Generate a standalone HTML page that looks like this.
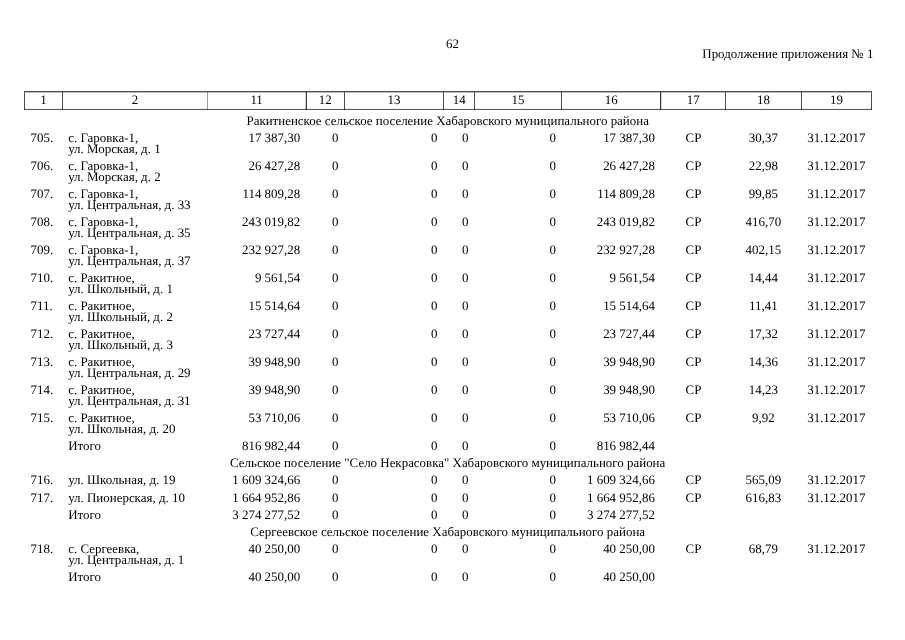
<!DOCTYPE html>
<html lang="ru"><head><meta charset="utf-8"><title>62</title>
<style>
html,body{margin:0;padding:0;background:#fff;}
body{width:905px;height:640px;position:relative;overflow:hidden;font-family:"Liberation Serif",serif;font-size:12.95px;color:#000;text-rendering:geometricPrecision;}
.t{position:absolute;white-space:pre;line-height:14px;height:14px;}
.r{text-align:right;}
.c{text-align:center;}
.lines{position:absolute;left:0;top:0;}
#wrap{position:absolute;left:0;top:0;width:905px;height:640px;will-change:transform;transform:translateZ(0);}
</style></head><body><div id="wrap">
<svg class="lines" width="905" height="640" viewBox="0 0 905 640">
<g stroke="#000" stroke-width="0.7" fill="none">
<line x1="24.15" y1="91.78" x2="871.85" y2="91.78" stroke-width="0.95"/>
<line x1="24.15" y1="109.45" x2="871.85" y2="109.45"/>
<line x1="24.5" y1="92.14999999999999" x2="24.5" y2="110.0"/>
<line x1="62.5" y1="92.14999999999999" x2="62.5" y2="110.0"/>
<line x1="207.5" y1="92.14999999999999" x2="207.5" y2="110.0" stroke-opacity="0.55"/>
<line x1="306.3" y1="92.14999999999999" x2="306.3" y2="110.0" stroke-width="0.95"/>
<line x1="344.5" y1="92.14999999999999" x2="344.5" y2="110.0"/>
<line x1="443.5" y1="92.14999999999999" x2="443.5" y2="110.0"/>
<line x1="474.5" y1="92.14999999999999" x2="474.5" y2="110.0"/>
<line x1="561.5" y1="92.14999999999999" x2="561.5" y2="110.0"/>
<line x1="660.7" y1="92.14999999999999" x2="660.7" y2="110.0" stroke-width="0.95"/>
<line x1="725.5" y1="92.14999999999999" x2="725.5" y2="110.0"/>
<line x1="801.5" y1="92.14999999999999" x2="801.5" y2="110.0"/>
<line x1="871.5" y1="92.14999999999999" x2="871.5" y2="110.0"/>
</g></svg>
<div class="t c" style="left:152.50px;width:600px;top:37.00px">62</div>
<div class="t r" style="left:573.40px;width:300px;top:47.00px">Продолжение приложения № 1</div>
<div class="t c" style="left:-256.60px;width:600px;top:93.00px">1</div>
<div class="t c" style="left:-165.15px;width:600px;top:93.00px">2</div>
<div class="t c" style="left:-43.40px;width:600px;top:93.00px">11</div>
<div class="t c" style="left:25.25px;width:600px;top:93.00px">12</div>
<div class="t c" style="left:94.05px;width:600px;top:93.00px">13</div>
<div class="t c" style="left:159.15px;width:600px;top:93.00px">14</div>
<div class="t c" style="left:218.05px;width:600px;top:93.00px">15</div>
<div class="t c" style="left:311.15px;width:600px;top:93.00px">16</div>
<div class="t c" style="left:393.25px;width:600px;top:93.00px">17</div>
<div class="t c" style="left:463.50px;width:600px;top:93.00px">18</div>
<div class="t c" style="left:536.55px;width:600px;top:93.00px">19</div>
<div class="t c" style="left:147.70px;width:600px;top:114.00px">Ракитненское сельское поселение Хабаровского муниципального района</div>
<div class="t" style="left:30.50px;top:131.00px">705.</div>
<div class="t" style="left:68.20px;top:131.00px">с. Гаровка-1,</div>
<div class="t" style="left:68.20px;top:142.00px">ул. Морская, д. 1</div>
<div class="t r" style="left:0.20px;width:300px;top:131.00px">17 387,30</div>
<div class="t r" style="left:38.40px;width:300px;top:131.00px">0</div>
<div class="t r" style="left:137.50px;width:300px;top:131.00px">0</div>
<div class="t r" style="left:168.40px;width:300px;top:131.00px">0</div>
<div class="t r" style="left:255.90px;width:300px;top:131.00px">0</div>
<div class="t r" style="left:354.90px;width:300px;top:131.00px">17 387,30</div>
<div class="t c" style="left:393.50px;width:600px;top:131.00px">СР</div>
<div class="t c" style="left:463.40px;width:600px;top:131.00px">30,37</div>
<div class="t c" style="left:536.30px;width:600px;top:131.00px">31.12.2017</div>
<div class="t" style="left:30.50px;top:159.00px">706.</div>
<div class="t" style="left:68.20px;top:159.00px">с. Гаровка-1,</div>
<div class="t" style="left:68.20px;top:170.00px">ул. Морская, д. 2</div>
<div class="t r" style="left:0.20px;width:300px;top:159.00px">26 427,28</div>
<div class="t r" style="left:38.40px;width:300px;top:159.00px">0</div>
<div class="t r" style="left:137.50px;width:300px;top:159.00px">0</div>
<div class="t r" style="left:168.40px;width:300px;top:159.00px">0</div>
<div class="t r" style="left:255.90px;width:300px;top:159.00px">0</div>
<div class="t r" style="left:354.90px;width:300px;top:159.00px">26 427,28</div>
<div class="t c" style="left:393.50px;width:600px;top:159.00px">СР</div>
<div class="t c" style="left:463.40px;width:600px;top:159.00px">22,98</div>
<div class="t c" style="left:536.30px;width:600px;top:159.00px">31.12.2017</div>
<div class="t" style="left:30.50px;top:187.00px">707.</div>
<div class="t" style="left:68.20px;top:187.00px">с. Гаровка-1,</div>
<div class="t" style="left:68.20px;top:198.00px">ул. Центральная, д. 33</div>
<div class="t r" style="left:0.20px;width:300px;top:187.00px">114 809,28</div>
<div class="t r" style="left:38.40px;width:300px;top:187.00px">0</div>
<div class="t r" style="left:137.50px;width:300px;top:187.00px">0</div>
<div class="t r" style="left:168.40px;width:300px;top:187.00px">0</div>
<div class="t r" style="left:255.90px;width:300px;top:187.00px">0</div>
<div class="t r" style="left:354.90px;width:300px;top:187.00px">114 809,28</div>
<div class="t c" style="left:393.50px;width:600px;top:187.00px">СР</div>
<div class="t c" style="left:463.40px;width:600px;top:187.00px">99,85</div>
<div class="t c" style="left:536.30px;width:600px;top:187.00px">31.12.2017</div>
<div class="t" style="left:30.50px;top:215.00px">708.</div>
<div class="t" style="left:68.20px;top:215.00px">с. Гаровка-1,</div>
<div class="t" style="left:68.20px;top:226.00px">ул. Центральная, д. 35</div>
<div class="t r" style="left:0.20px;width:300px;top:215.00px">243 019,82</div>
<div class="t r" style="left:38.40px;width:300px;top:215.00px">0</div>
<div class="t r" style="left:137.50px;width:300px;top:215.00px">0</div>
<div class="t r" style="left:168.40px;width:300px;top:215.00px">0</div>
<div class="t r" style="left:255.90px;width:300px;top:215.00px">0</div>
<div class="t r" style="left:354.90px;width:300px;top:215.00px">243 019,82</div>
<div class="t c" style="left:393.50px;width:600px;top:215.00px">СР</div>
<div class="t c" style="left:463.40px;width:600px;top:215.00px">416,70</div>
<div class="t c" style="left:536.30px;width:600px;top:215.00px">31.12.2017</div>
<div class="t" style="left:30.50px;top:243.00px">709.</div>
<div class="t" style="left:68.20px;top:243.00px">с. Гаровка-1,</div>
<div class="t" style="left:68.20px;top:254.00px">ул. Центральная, д. 37</div>
<div class="t r" style="left:0.20px;width:300px;top:243.00px">232 927,28</div>
<div class="t r" style="left:38.40px;width:300px;top:243.00px">0</div>
<div class="t r" style="left:137.50px;width:300px;top:243.00px">0</div>
<div class="t r" style="left:168.40px;width:300px;top:243.00px">0</div>
<div class="t r" style="left:255.90px;width:300px;top:243.00px">0</div>
<div class="t r" style="left:354.90px;width:300px;top:243.00px">232 927,28</div>
<div class="t c" style="left:393.50px;width:600px;top:243.00px">СР</div>
<div class="t c" style="left:463.40px;width:600px;top:243.00px">402,15</div>
<div class="t c" style="left:536.30px;width:600px;top:243.00px">31.12.2017</div>
<div class="t" style="left:30.50px;top:271.00px">710.</div>
<div class="t" style="left:68.20px;top:271.00px">с. Ракитное,</div>
<div class="t" style="left:68.20px;top:282.00px">ул. Школьный, д. 1</div>
<div class="t r" style="left:0.20px;width:300px;top:271.00px">9 561,54</div>
<div class="t r" style="left:38.40px;width:300px;top:271.00px">0</div>
<div class="t r" style="left:137.50px;width:300px;top:271.00px">0</div>
<div class="t r" style="left:168.40px;width:300px;top:271.00px">0</div>
<div class="t r" style="left:255.90px;width:300px;top:271.00px">0</div>
<div class="t r" style="left:354.90px;width:300px;top:271.00px">9 561,54</div>
<div class="t c" style="left:393.50px;width:600px;top:271.00px">СР</div>
<div class="t c" style="left:463.40px;width:600px;top:271.00px">14,44</div>
<div class="t c" style="left:536.30px;width:600px;top:271.00px">31.12.2017</div>
<div class="t" style="left:30.50px;top:299.00px">711.</div>
<div class="t" style="left:68.20px;top:299.00px">с. Ракитное,</div>
<div class="t" style="left:68.20px;top:310.00px">ул. Школьный, д. 2</div>
<div class="t r" style="left:0.20px;width:300px;top:299.00px">15 514,64</div>
<div class="t r" style="left:38.40px;width:300px;top:299.00px">0</div>
<div class="t r" style="left:137.50px;width:300px;top:299.00px">0</div>
<div class="t r" style="left:168.40px;width:300px;top:299.00px">0</div>
<div class="t r" style="left:255.90px;width:300px;top:299.00px">0</div>
<div class="t r" style="left:354.90px;width:300px;top:299.00px">15 514,64</div>
<div class="t c" style="left:393.50px;width:600px;top:299.00px">СР</div>
<div class="t c" style="left:463.40px;width:600px;top:299.00px">11,41</div>
<div class="t c" style="left:536.30px;width:600px;top:299.00px">31.12.2017</div>
<div class="t" style="left:30.50px;top:327.00px">712.</div>
<div class="t" style="left:68.20px;top:327.00px">с. Ракитное,</div>
<div class="t" style="left:68.20px;top:338.00px">ул. Школьный, д. 3</div>
<div class="t r" style="left:0.20px;width:300px;top:327.00px">23 727,44</div>
<div class="t r" style="left:38.40px;width:300px;top:327.00px">0</div>
<div class="t r" style="left:137.50px;width:300px;top:327.00px">0</div>
<div class="t r" style="left:168.40px;width:300px;top:327.00px">0</div>
<div class="t r" style="left:255.90px;width:300px;top:327.00px">0</div>
<div class="t r" style="left:354.90px;width:300px;top:327.00px">23 727,44</div>
<div class="t c" style="left:393.50px;width:600px;top:327.00px">СР</div>
<div class="t c" style="left:463.40px;width:600px;top:327.00px">17,32</div>
<div class="t c" style="left:536.30px;width:600px;top:327.00px">31.12.2017</div>
<div class="t" style="left:30.50px;top:355.00px">713.</div>
<div class="t" style="left:68.20px;top:355.00px">с. Ракитное,</div>
<div class="t" style="left:68.20px;top:366.00px">ул. Центральная, д. 29</div>
<div class="t r" style="left:0.20px;width:300px;top:355.00px">39 948,90</div>
<div class="t r" style="left:38.40px;width:300px;top:355.00px">0</div>
<div class="t r" style="left:137.50px;width:300px;top:355.00px">0</div>
<div class="t r" style="left:168.40px;width:300px;top:355.00px">0</div>
<div class="t r" style="left:255.90px;width:300px;top:355.00px">0</div>
<div class="t r" style="left:354.90px;width:300px;top:355.00px">39 948,90</div>
<div class="t c" style="left:393.50px;width:600px;top:355.00px">СР</div>
<div class="t c" style="left:463.40px;width:600px;top:355.00px">14,36</div>
<div class="t c" style="left:536.30px;width:600px;top:355.00px">31.12.2017</div>
<div class="t" style="left:30.50px;top:383.00px">714.</div>
<div class="t" style="left:68.20px;top:383.00px">с. Ракитное,</div>
<div class="t" style="left:68.20px;top:394.00px">ул. Центральная, д. 31</div>
<div class="t r" style="left:0.20px;width:300px;top:383.00px">39 948,90</div>
<div class="t r" style="left:38.40px;width:300px;top:383.00px">0</div>
<div class="t r" style="left:137.50px;width:300px;top:383.00px">0</div>
<div class="t r" style="left:168.40px;width:300px;top:383.00px">0</div>
<div class="t r" style="left:255.90px;width:300px;top:383.00px">0</div>
<div class="t r" style="left:354.90px;width:300px;top:383.00px">39 948,90</div>
<div class="t c" style="left:393.50px;width:600px;top:383.00px">СР</div>
<div class="t c" style="left:463.40px;width:600px;top:383.00px">14,23</div>
<div class="t c" style="left:536.30px;width:600px;top:383.00px">31.12.2017</div>
<div class="t" style="left:30.50px;top:411.00px">715.</div>
<div class="t" style="left:68.20px;top:411.00px">с. Ракитное,</div>
<div class="t" style="left:68.20px;top:422.00px">ул. Школьная, д. 20</div>
<div class="t r" style="left:0.20px;width:300px;top:411.00px">53 710,06</div>
<div class="t r" style="left:38.40px;width:300px;top:411.00px">0</div>
<div class="t r" style="left:137.50px;width:300px;top:411.00px">0</div>
<div class="t r" style="left:168.40px;width:300px;top:411.00px">0</div>
<div class="t r" style="left:255.90px;width:300px;top:411.00px">0</div>
<div class="t r" style="left:354.90px;width:300px;top:411.00px">53 710,06</div>
<div class="t c" style="left:393.50px;width:600px;top:411.00px">СР</div>
<div class="t c" style="left:463.40px;width:600px;top:411.00px">9,92</div>
<div class="t c" style="left:536.30px;width:600px;top:411.00px">31.12.2017</div>
<div class="t" style="left:68.20px;top:439.00px">Итого</div>
<div class="t r" style="left:0.20px;width:300px;top:439.00px">816 982,44</div>
<div class="t r" style="left:38.40px;width:300px;top:439.00px">0</div>
<div class="t r" style="left:137.50px;width:300px;top:439.00px">0</div>
<div class="t r" style="left:168.40px;width:300px;top:439.00px">0</div>
<div class="t r" style="left:255.90px;width:300px;top:439.00px">0</div>
<div class="t r" style="left:354.90px;width:300px;top:439.00px">816 982,44</div>
<div class="t c" style="left:147.70px;width:600px;top:456.00px">Сельское поселение "Село Некрасовка" Хабаровского муниципального района</div>
<div class="t" style="left:30.50px;top:473.00px">716.</div>
<div class="t" style="left:68.20px;top:473.00px">ул. Школьная, д. 19</div>
<div class="t r" style="left:0.20px;width:300px;top:473.00px">1 609 324,66</div>
<div class="t r" style="left:38.40px;width:300px;top:473.00px">0</div>
<div class="t r" style="left:137.50px;width:300px;top:473.00px">0</div>
<div class="t r" style="left:168.40px;width:300px;top:473.00px">0</div>
<div class="t r" style="left:255.90px;width:300px;top:473.00px">0</div>
<div class="t r" style="left:354.90px;width:300px;top:473.00px">1 609 324,66</div>
<div class="t c" style="left:393.50px;width:600px;top:473.00px">СР</div>
<div class="t c" style="left:463.40px;width:600px;top:473.00px">565,09</div>
<div class="t c" style="left:536.30px;width:600px;top:473.00px">31.12.2017</div>
<div class="t" style="left:30.50px;top:491.00px">717.</div>
<div class="t" style="left:68.20px;top:491.00px">ул. Пионерская, д. 10</div>
<div class="t r" style="left:0.20px;width:300px;top:491.00px">1 664 952,86</div>
<div class="t r" style="left:38.40px;width:300px;top:491.00px">0</div>
<div class="t r" style="left:137.50px;width:300px;top:491.00px">0</div>
<div class="t r" style="left:168.40px;width:300px;top:491.00px">0</div>
<div class="t r" style="left:255.90px;width:300px;top:491.00px">0</div>
<div class="t r" style="left:354.90px;width:300px;top:491.00px">1 664 952,86</div>
<div class="t c" style="left:393.50px;width:600px;top:491.00px">СР</div>
<div class="t c" style="left:463.40px;width:600px;top:491.00px">616,83</div>
<div class="t c" style="left:536.30px;width:600px;top:491.00px">31.12.2017</div>
<div class="t" style="left:68.20px;top:508.00px">Итого</div>
<div class="t r" style="left:0.20px;width:300px;top:508.00px">3 274 277,52</div>
<div class="t r" style="left:38.40px;width:300px;top:508.00px">0</div>
<div class="t r" style="left:137.50px;width:300px;top:508.00px">0</div>
<div class="t r" style="left:168.40px;width:300px;top:508.00px">0</div>
<div class="t r" style="left:255.90px;width:300px;top:508.00px">0</div>
<div class="t r" style="left:354.90px;width:300px;top:508.00px">3 274 277,52</div>
<div class="t c" style="left:147.70px;width:600px;top:525.00px">Сергеевское сельское поселение Хабаровского муниципального района</div>
<div class="t" style="left:30.50px;top:542.00px">718.</div>
<div class="t" style="left:68.20px;top:542.00px">с. Сергеевка,</div>
<div class="t" style="left:68.20px;top:553.00px">ул. Центральная, д. 1</div>
<div class="t r" style="left:0.20px;width:300px;top:542.00px">40 250,00</div>
<div class="t r" style="left:38.40px;width:300px;top:542.00px">0</div>
<div class="t r" style="left:137.50px;width:300px;top:542.00px">0</div>
<div class="t r" style="left:168.40px;width:300px;top:542.00px">0</div>
<div class="t r" style="left:255.90px;width:300px;top:542.00px">0</div>
<div class="t r" style="left:354.90px;width:300px;top:542.00px">40 250,00</div>
<div class="t c" style="left:393.50px;width:600px;top:542.00px">СР</div>
<div class="t c" style="left:463.40px;width:600px;top:542.00px">68,79</div>
<div class="t c" style="left:536.30px;width:600px;top:542.00px">31.12.2017</div>
<div class="t" style="left:68.20px;top:570.00px">Итого</div>
<div class="t r" style="left:0.20px;width:300px;top:570.00px">40 250,00</div>
<div class="t r" style="left:38.40px;width:300px;top:570.00px">0</div>
<div class="t r" style="left:137.50px;width:300px;top:570.00px">0</div>
<div class="t r" style="left:168.40px;width:300px;top:570.00px">0</div>
<div class="t r" style="left:255.90px;width:300px;top:570.00px">0</div>
<div class="t r" style="left:354.90px;width:300px;top:570.00px">40 250,00</div>
</div></body></html>
